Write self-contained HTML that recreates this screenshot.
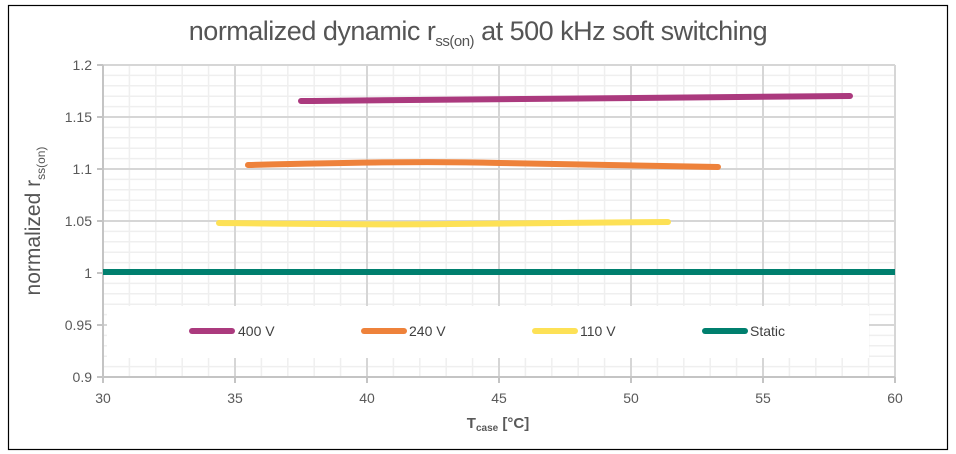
<!DOCTYPE html>
<html><head><meta charset="utf-8"><style>
html,body{margin:0;padding:0;background:#fff;}
svg{display:block;font-family:"Liberation Sans",sans-serif;}
</style></head><body>
<svg width="956" height="454" viewBox="0 0 956 454" xmlns="http://www.w3.org/2000/svg">
<rect x="0" y="0" width="956" height="454" fill="#fff"/>
<rect x="8.5" y="5.5" width="939" height="444" fill="none" stroke="#000" stroke-width="1.2"/>
<g stroke="#efefef" stroke-width="1.5">
<!-- minor vertical -->
<path d="M129.4 65V377M155.8 65V377M182.2 65V377M208.6 65V377M261.4 65V377M287.8 65V377M314.2 65V377M340.6 65V377M393.4 65V377M419.8 65V377M446.2 65V377M472.6 65V377M525.4 65V377M551.8 65V377M578.2 65V377M604.6 65V377M657.4 65V377M683.8 65V377M710.2 65V377M736.6 65V377M789.4 65V377M815.8 65V377M842.2 65V377M868.6 65V377"/>
<path d="M103 75.4H895M103 85.8H895M103 96.2H895M103 106.6H895M103 127.4H895M103 137.8H895M103 148.2H895M103 158.6H895M103 179.4H895M103 189.8H895M103 200.2H895M103 210.6H895M103 231.4H895M103 241.8H895M103 252.2H895M103 262.6H895M103 283.4H895M103 293.8H895M103 304.2H895M103 314.6H895M103 335.4H895M103 345.8H895M103 356.2H895M103 366.6H895"/>
</g>
<g stroke="#d6d6d6" stroke-width="2">
<path d="M235 65V377M367 65V377M499 65V377M631 65V377M763 65V377M895 65V377"/>
<path d="M103 65H895M103 117H895M103 169H895M103 221H895M103 325H895"/>
</g>
<!-- legend background -->
<rect x="107" y="306" width="762" height="52" fill="#fff"/>
<g stroke="#c4c4c4" stroke-width="2">
<path d="M103 65V377M103 377H895"/>
<path d="M97 65H103M97 117H103M97 169H103M97 221H103M97 273H103M97 325H103M97 377H103"/>
<path d="M103 377V383M235 377V383M367 377V383M499 377V383M631 377V383M763 377V383M895 377V383"/>
</g>
<g fill="none" stroke-linecap="round" stroke-width="6">
<path d="M301 101 C500 100 700 98 850 96" stroke="#ab3a7e"/>
<path d="M248 165 C330 163 420 161 500 163 S650 166 718 167" stroke="#ee823b"/>
<path d="M219 223 C300 224 370 225 450 224 S600 222 668 222" stroke="#fde156"/>
<path d="M103 272H895" stroke="#007f6e" stroke-linecap="butt"/>
</g>
<g stroke-width="6" stroke-linecap="round">
<line x1="192" y1="331" x2="232" y2="331" stroke="#ab3a7e"/>
<line x1="364" y1="331" x2="404" y2="331" stroke="#ee823b"/>
<line x1="535" y1="331" x2="575" y2="331" stroke="#fde156"/>
<line x1="705" y1="331" x2="745" y2="331" stroke="#007f6e"/>
</g>
<g font-size="14" fill="#404040">
<text x="238" y="336">400 V</text>
<text x="409" y="336">240 V</text>
<text x="580" y="336">110 V</text>
<text x="750" y="336">Static</text>
</g>
<g font-size="14" fill="#595959" text-anchor="end">
<text x="92" y="70">1.2</text>
<text x="92" y="122">1.15</text>
<text x="92" y="174">1.1</text>
<text x="92" y="226">1.05</text>
<text x="92" y="278">1</text>
<text x="92" y="330">0.95</text>
<text x="92" y="382">0.9</text>
</g>
<g font-size="14" fill="#595959" text-anchor="middle">
<text x="103" y="403">30</text>
<text x="235" y="403">35</text>
<text x="367" y="403">40</text>
<text x="499" y="403">45</text>
<text x="631" y="403">50</text>
<text x="763" y="403">55</text>
<text x="895" y="403">60</text>
</g>
<text x="498" y="428" font-size="15" font-weight="bold" fill="#595959" text-anchor="middle">T<tspan font-size="10" dy="3">case</tspan><tspan dy="-3"> [°C]</tspan></text>
<text x="478" y="40" font-size="27" fill="#555" text-anchor="middle" letter-spacing="-0.5">normalized dynamic r<tspan font-size="15" dy="6">ss(on)</tspan><tspan dy="-6"> at 500 kHz soft switching</tspan></text>
<text transform="translate(40,221) rotate(-90)" font-size="21" fill="#555" text-anchor="middle">normalized r<tspan font-size="12" dy="5">ss(on)</tspan></text>
</svg>
</body></html>
